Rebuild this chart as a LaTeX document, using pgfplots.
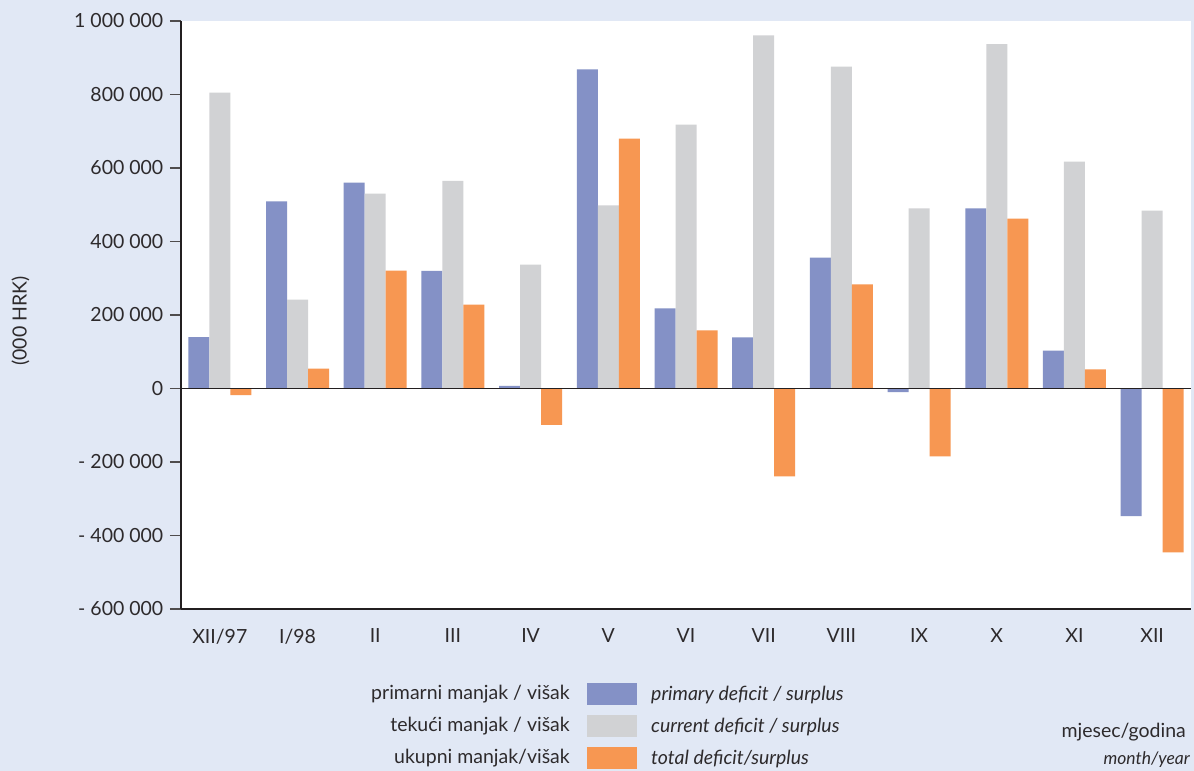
\documentclass[border=0pt]{standalone}
\usepackage{pgfplots}
\pgfplotsset{compat=1.18}
\usepackage{pgfplotstable}
\usepackage{fontspec}
\setmainfont{Lato}

\definecolor{bg}{RGB}{225,232,245}
\definecolor{prim}{RGB}{132,145,198}
\definecolor{curr}{RGB}{209,210,212}
\definecolor{tot}{RGB}{247,151,82}
\definecolor{ink}{RGB}{35,31,32}
\definecolor{txt}{RGB}{45,42,44}

\pgfdeclarelayer{background}
\pgfsetlayers{background,main}

\pgfplotstableread{
x prim curr tot
0 140000 805000 -18000
1 509000 242000 54000
2 560000 530000 321000
3 320000 565000 228000
4 7000 337000 -99000
5 868000 498000 680000
6 218000 718000 158000
7 139000 961000 -239000
8 356000 876000 283000
9 -10000 490000 -185000
10 490000 937000 462000
11 103000 617000 52000
12 -347000 484000 -446000
}\data

\newcommand\fs{\fontsize{19.5bp}{23bp}\selectfont}

\begin{document}
\fs
\begin{tikzpicture}
\begin{axis}[
  name=ax,
  scale only axis, width=1010bp, height=588bp,
  xmin=-0.5, xmax=12.5, ymin=-600000, ymax=1000000,
  scaled y ticks=false,
  axis background/.style={fill=white},
  axis x line*=bottom, axis y line*=left,
  x axis line style={-, draw=ink, line width=1.6bp},
  y axis line style={-, draw=ink, line width=1.6bp},
  ybar=0pt, bar width=21bp,
  xtick={0,...,12},
  xticklabels={XII/97,I/98,II,III,IV,V,VI,VII,VIII,IX,X,XI,XII},
  xtick style={draw=none},
  ytick={-600000,-400000,-200000,0,200000,400000,600000,800000,1000000},
  yticklabels={- 600 000,- 400 000,- 200 000,0,200 000,400 000,600 000,800 000,1 000 000},
  ytick style={draw=ink!80, line width=1.2bp},
  tick align=outside, major tick length=11bp,
  tick label style={font=\fs, text=txt},
  xticklabel style={yshift=-2bp},
  ylabel={(000 HRK)},
  ylabel style={at={(axis description cs:-0.159,0.49)}, anchor=center, font=\fs, text=txt},
  legend style={at={(axis description cs:0.402,-0.199)}, anchor=west,
    draw=none, fill=none, inner sep=0pt, row sep=10bp,
    font=\fs\itshape, text=txt,
    nodes={inner sep=0pt}},
  legend cell align=left,
  legend image code/.code={\fill[#1] (0bp,-10bp) rectangle (50bp,12bp);},
  /tikz/every odd column/.append style={column sep=14bp},
]
\addplot[fill=prim, draw=none] table[x=x,y=prim] {\data};
\addplot[fill=curr, draw=none] table[x=x,y=curr] {\data};
\addplot[fill=tot, draw=none] table[x=x,y=tot] {\data};
\legend{primary deficit / surplus, current deficit / surplus, total deficit/surplus}
\draw[ink, line width=1.6bp] (axis cs:-0.5,0) -- (axis cs:12.5,0);
\end{axis}
\begin{scope}[shift={([shift={(-181bp,-162bp)}]ax.south west)}, x=1bp, y=1bp]
\begin{pgfonlayer}{background}
\fill[bg] (0,0) rectangle (1194,771);
\end{pgfonlayer}
\begin{scope}[every node/.style={text=txt, font=\fs, inner sep=0pt}]
\node[anchor=base east] at (570,771-700) {primarni manjak / višak};
\node[anchor=base east] at (570,771-732) {tekući manjak / višak};
\node[anchor=base east] at (570,771-764) {ukupni manjak/višak};
\node[anchor=base east] at (1186,771-738) {mjesec/godina};
\node[anchor=base east, font=\fontsize{17.5bp}{20bp}\selectfont\itshape] at (1190,771-765) {month/year};
\end{scope}
\pgfresetboundingbox
\path[use as bounding box] (0,0) rectangle (1194,771);
\end{scope}
\end{tikzpicture}
\end{document}
